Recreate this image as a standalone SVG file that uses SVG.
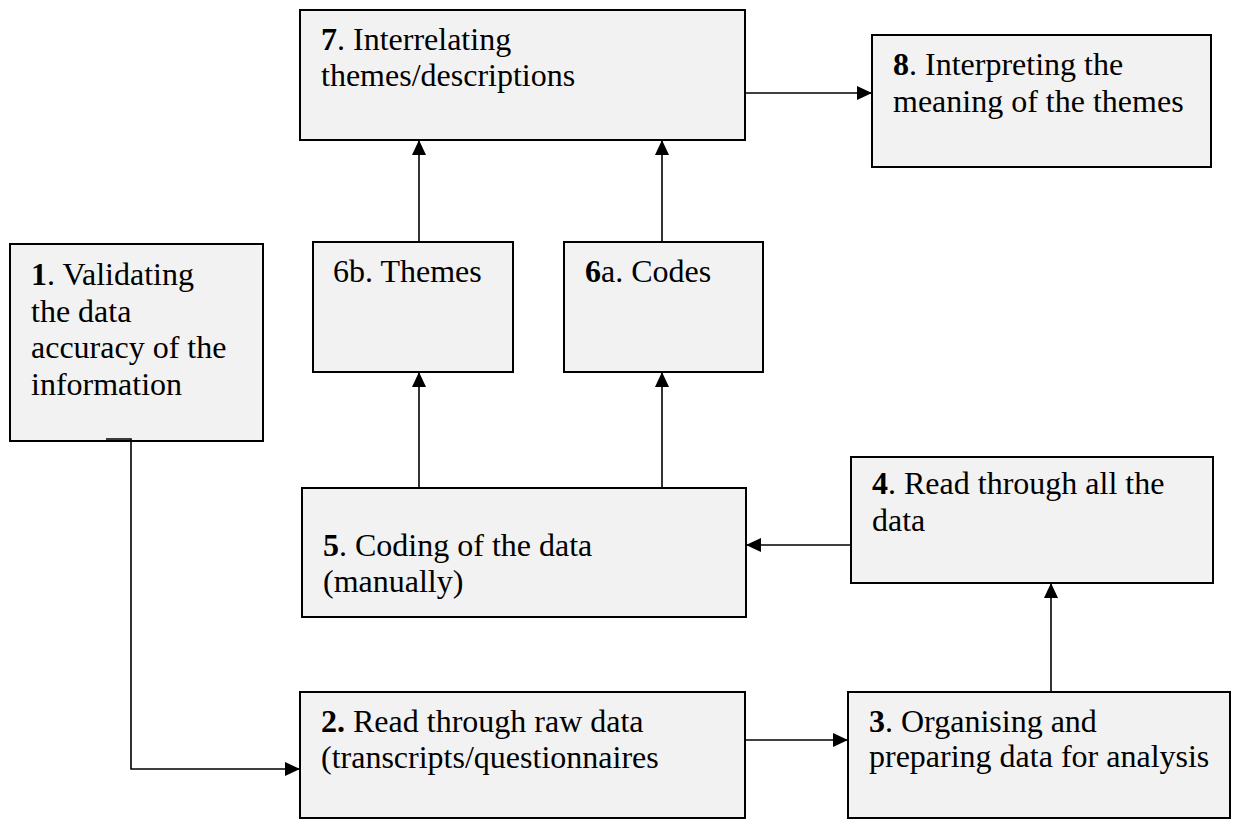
<svg xmlns="http://www.w3.org/2000/svg" width="1238" height="819" viewBox="0 0 1238 819">
  <defs>
    <style>
      .box { fill: #f2f2f2; stroke: #000; stroke-width: 2; }
      .lbl { font-family: "Liberation Serif", "Times New Roman", serif; font-size: 32px; fill: #000; }
      .b { font-weight: bold; }
      .wire { fill: none; stroke: #000; stroke-width: 1.6; }
    </style>
    <marker id="arrow" viewBox="0 0 15 14" refX="15" refY="7" markerWidth="15" markerHeight="14" markerUnits="userSpaceOnUse" orient="auto">
      <path d="M0,0 L15,7 L0,14 Z" fill="#000"/>
    </marker>
  </defs>

  <rect width="1238" height="819" fill="#fff"/>

  <!-- step boxes -->
  <g id="node-7">
    <rect class="box" x="300" y="10" width="445" height="130"/>
    <text class="lbl" x="321" y="50"><tspan class="b">7</tspan>. Interrelating</text>
    <text class="lbl" x="321" y="86">themes/descriptions</text>
  </g>

  <g id="node-8">
    <rect class="box" x="872" y="35" width="339" height="132"/>
    <text class="lbl" x="893" y="75"><tspan class="b">8</tspan>. Interpreting the</text>
    <text class="lbl" x="893" y="112">meaning of the themes</text>
  </g>

  <g id="node-1">
    <rect class="box" x="10" y="244" width="253" height="197"/>
    <text class="lbl" x="31" y="285"><tspan class="b">1</tspan>. Validating</text>
    <text class="lbl" x="31" y="322">the data</text>
    <text class="lbl" x="31" y="358">accuracy of the</text>
    <text class="lbl" x="31" y="395">information</text>
  </g>

  <g id="node-6b">
    <rect class="box" x="313" y="242" width="200" height="130"/>
    <text class="lbl" x="333" y="282">6b. Themes</text>
  </g>

  <g id="node-6a">
    <rect class="box" x="564" y="242" width="199" height="130"/>
    <text class="lbl" x="585" y="282"><tspan class="b">6</tspan>a. Codes</text>
  </g>

  <g id="node-5">
    <rect class="box" x="302" y="488" width="444" height="129"/>
    <text class="lbl" x="323" y="556"><tspan class="b">5</tspan>. Coding of the data</text>
    <text class="lbl" x="323" y="592">(manually)</text>
  </g>

  <g id="node-4">
    <rect class="box" x="851" y="457" width="362" height="126"/>
    <text class="lbl" x="872" y="494"><tspan class="b">4</tspan>. Read through all the</text>
    <text class="lbl" x="872" y="531">data</text>
  </g>

  <g id="node-2">
    <rect class="box" x="300" y="692" width="445" height="126"/>
    <text class="lbl" x="321" y="732"><tspan class="b">2.</tspan> Read through raw data</text>
    <text class="lbl" x="321" y="768">(transcripts/questionnaires</text>
  </g>

  <g id="node-3">
    <rect class="box" x="848" y="692" width="382" height="126"/>
    <text class="lbl" x="869" y="732"><tspan class="b">3</tspan>. Organising and</text>
    <text class="lbl" x="869" y="767">preparing data for analysis</text>
  </g>

  <!-- connectors -->
  <g id="connectors">
    <path class="wire" d="M106,439 H131 V769 H300" marker-end="url(#arrow)"/>
    <path class="wire" d="M745,740 H848" marker-end="url(#arrow)"/>
    <path class="wire" d="M1051,692 V583" marker-end="url(#arrow)"/>
    <path class="wire" d="M851,545 H746" marker-end="url(#arrow)"/>
    <path class="wire" d="M419,488 V372" marker-end="url(#arrow)"/>
    <path class="wire" d="M662,488 V372" marker-end="url(#arrow)"/>
    <path class="wire" d="M419,242 V140" marker-end="url(#arrow)"/>
    <path class="wire" d="M662,242 V140" marker-end="url(#arrow)"/>
    <path class="wire" d="M745,93 H872" marker-end="url(#arrow)"/>
  </g>
</svg>
